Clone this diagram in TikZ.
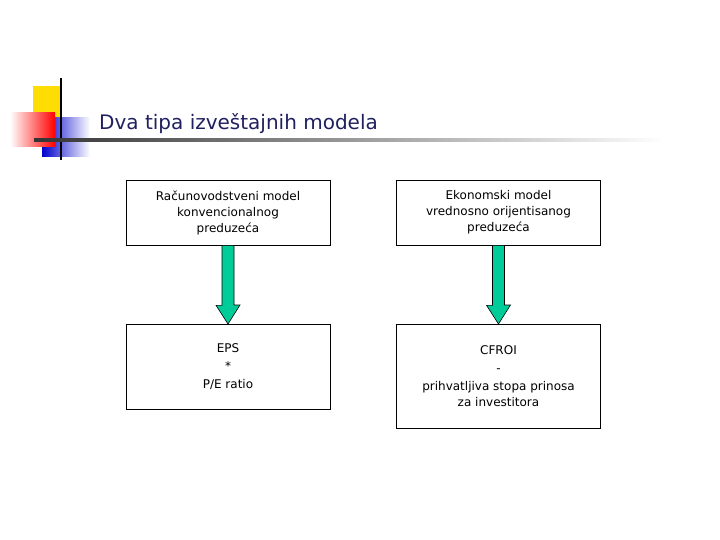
\documentclass[tikz,border=0pt]{standalone}
\usepackage{fontspec}
\setmainfont{DejaVu Sans}
\usetikzlibrary{shapes.arrows}
\definecolor{navy}{RGB}{32,32,96}
\definecolor{arrowgreen}{RGB}{0,204,153}
\tikzset{
  box/.style={draw,line width=0.6pt,minimum width=204pt,align=center,font=\fontsize{12}{16}\selectfont,inner sep=2pt},
  bigarrow/.style={draw,fill=arrowgreen,line width=0.6pt}
}
\begin{document}
\begin{tikzpicture}[x=1pt,y=-1pt]
\useasboundingbox (0,0) rectangle (720,540);
% logo
\fill[yellow!80!orange] (33,86) rectangle (62,118);
\shade[left color=blue!80!black, right color=white] (42,118) rectangle (90,157);
\shade[left color=white, right color=red] (10,113) rectangle (55,147);
\draw[line width=2pt] (61,78) -- (61,160);
\shade[left color=black!80, right color=white] (34,139) rectangle (665,141.5);
\node[anchor=base west,text=navy,font=\fontsize{20}{24}\selectfont,inner sep=0] (title) at (99,130) {Dva tipa izveštajnih modela};
% boxes
\node[box,minimum height=65pt] (a1) at (228,212.5) {Računovodstveni model\\konvencionalnog\\preduzeća};
\node[box,minimum height=65pt] (b1) at (498.5,212.5) {Ekonomski model\\vrednosno orijentisanog\\preduzeća};
\node[box,minimum height=85pt,anchor=north] (a2) at (228,324) {EPS\\[2pt]*\\[2pt]P/E ratio};
\node[box,minimum height=104pt,anchor=north] (b2) at (498.5,324) {CFROI\\[2pt]-\\[2pt]prihvatljiva stopa prinosa\\za investitora};
% arrows
\draw[bigarrow] ([xshift=-6pt]a1.south) -- ++(0,60) -- ++(-6,0) -- (a2.north) -- ([xshift=12pt]a1.south |- 0,305) -- ++(-6,0) -- ([xshift=6pt]a1.south) -- cycle;
\draw[bigarrow] ([xshift=-6pt]b1.south) -- ++(0,60) -- ++(-6,0) -- (b2.north) -- ([xshift=12pt]b1.south |- 0,305) -- ++(-6,0) -- ([xshift=6pt]b1.south) -- cycle;
\end{tikzpicture}
\end{document}
